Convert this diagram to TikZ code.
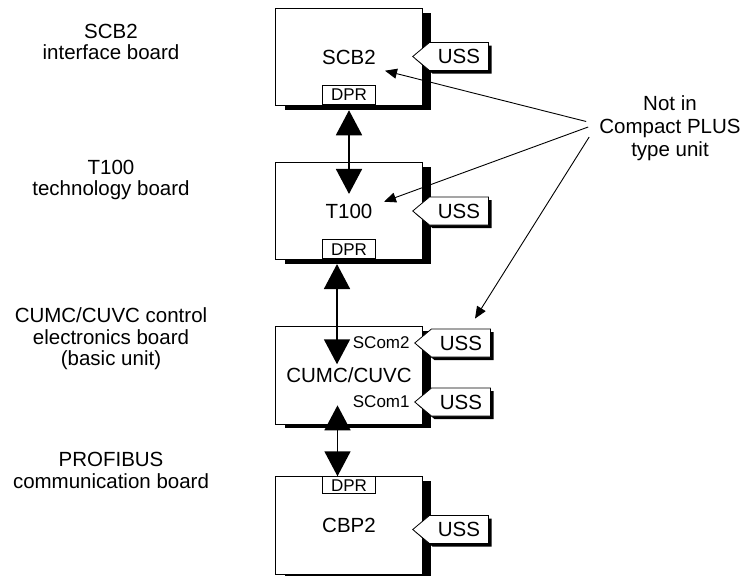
\documentclass[tikz,border=0pt]{standalone}
\usepackage{fontspec}
\setmainfont{Liberation Sans}
\usetikzlibrary{arrows.meta,positioning,shapes.symbols,shadows}

\newcommand\boardfont{\fontsize{20.5}{21.5}\selectfont}
\newcommand\portfont{\fontsize{17}{19}\selectfont}

\tikzset{
  board/.style={draw, line width=0.8pt, fill=white, minimum width=146.6pt,
    minimum height=97.3pt, inner sep=0pt,
    drop shadow={shadow xshift=9pt, shadow yshift=-4.5pt, fill=black, opacity=1}},
  dprbox/.style={draw, line width=0.8pt, fill=white, minimum width=53pt,
    minimum height=19pt, inner sep=0pt, font=\portfont},
  usstag/.style={signal, signal to=west, signal pointer angle=80, draw,
    line width=0.8pt, fill=white, minimum height=28pt, inner xsep=8.5pt,
    drop shadow={shadow xshift=3pt, shadow yshift=-3pt, fill=black, opacity=1}},
  link/.style={line width=1.8pt,
    {Triangle[length=25pt,width=26pt]}-{Triangle[length=25pt,width=26pt]}},
  noteline/.style={line width=0.9pt, -{Triangle[length=12pt,width=10pt]}},
}

\begin{document}
\begin{tikzpicture}[x=1pt,y=-1pt,font=\boardfont]
\useasboundingbox (0,0) rectangle (745,576);

% boards
\node[board] (scb) at (349,57.2) {SCB2};
\node[board] (tec) at (349,211) {T100};
\node[board] (cu) at (349,375.3) {CUMC/CUVC};
\node[board] (cbp) at (349,525.3) {CBP2};

% serial ports
\node[usstag] (scbuss) at (459,56.5) {USS};
\node[usstag] (tecuss) at (459,211) {USS};
\node[usstag] (cuussa) at (461,343) {USS};
\node[usstag] (cuussb) at (461,402) {USS};
\node[usstag] (cbpuss) at (459,529.5) {USS};
\node[font=\portfont, left=1pt of cuussa.west] (scomb) {SCom2};
\node[font=\portfont, left=1pt of cuussb.west] (scoma) {SCom1};

% dual port ram
\node[dprbox, above=1.5pt of scb.south] (scbdpr) {DPR};
\node[dprbox, above=1pt of tec.south] (tecdpr) {DPR};
\node[dprbox, below=0pt of cbp.north, minimum height=17pt] (cbpdpr) {DPR};

\draw[link] ([yshift=-4pt]scb.south) -- ([yshift=-32pt]tec.north);
\draw[link] ([xshift=-12pt,yshift=-4pt]tec.south) -- ([xshift=-12pt,yshift=-38pt]cu.north);
\draw[link] ([xshift=-11.5pt,yshift=19pt]cu.south) -- ([xshift=-11.5pt]cbp.north);

% left labels
\node[align=center] (scblab) at (111,41.7) {SCB2\\interface board};
\node[align=center] (teclab) at (111,180) {T100\\technology board};
\node[align=center] (culab) at (111,338.7) {CUMC/CUVC control\\electronics board\\(basic unit)};
\node[align=center] (cbplab) at (111,470.4) {PROFIBUS\\communication board};

% note
\node[align=center, inner xsep=10pt, font=\fontsize{20.5}{23}\selectfont] (note) at (670,128) {Not in\\Compact PLUS\\type unit};
\draw[noteline] ([xshift=-3pt,yshift=6.5pt]note.west) -- ([xshift=36pt,yshift=-13.5pt]scb.center);
\draw[noteline] ([xshift=-1pt,yshift=1pt]note.west) -- ([xshift=35pt,yshift=9.3pt]tec.center);
\draw[noteline] ([yshift=-9pt]note.west) -- ([xshift=14pt,yshift=10pt]cuussa.north);
\end{tikzpicture}
\end{document}
